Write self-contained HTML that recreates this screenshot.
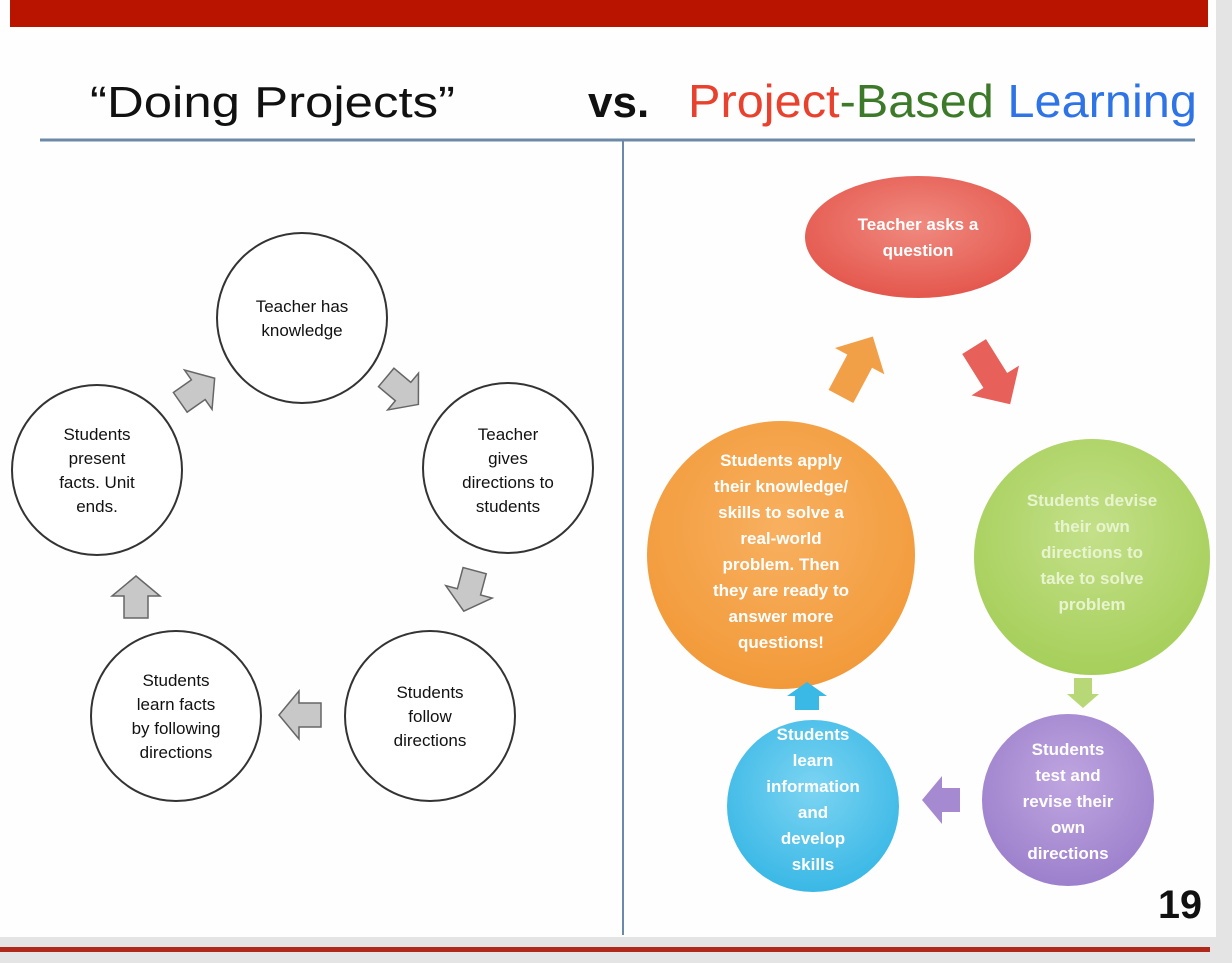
<!DOCTYPE html>
<html><head><meta charset="utf-8"><style>
html,body{margin:0;padding:0;background:#e4e4e4;}
svg{display:block;}
text{font-family:"Liberation Sans",sans-serif;}
</style></head><body>
<svg width="1232" height="963" viewBox="0 0 1232 963" xmlns="http://www.w3.org/2000/svg">
<defs>
<radialGradient id="gr" cx="50%" cy="40%" r="60%"><stop offset="0" stop-color="#f08a80"/><stop offset="1" stop-color="#e4574d"/></radialGradient>
<radialGradient id="go" cx="50%" cy="40%" r="60%"><stop offset="0" stop-color="#f8b060"/><stop offset="1" stop-color="#f29a3a"/></radialGradient>
<radialGradient id="gg" cx="50%" cy="40%" r="60%"><stop offset="0" stop-color="#c4e08a"/><stop offset="1" stop-color="#a6cf5a"/></radialGradient>
<radialGradient id="gp" cx="50%" cy="40%" r="60%"><stop offset="0" stop-color="#bfa6e0"/><stop offset="1" stop-color="#9d80cc"/></radialGradient>
<radialGradient id="gb" cx="50%" cy="40%" r="60%"><stop offset="0" stop-color="#7cd4f2"/><stop offset="1" stop-color="#3ab8e6"/></radialGradient>
<g id="arr"><polygon points="-18,-12 4,-12 4,-24 24,0 4,24 4,12 -18,12" fill="#c8c8c8" stroke="#666" stroke-width="1.5"/></g>
</defs>
<rect x="0" y="0" width="1216" height="937" fill="#fefefe"/>
<rect x="10" y="0" width="1198" height="27" fill="#b91400"/>
<rect x="0" y="947" width="1210" height="5" fill="#b0281a"/>
<text x="90" y="117" font-size="44" fill="#111" textLength="365" lengthAdjust="spacingAndGlyphs">“Doing Projects”</text>
<text x="588" y="117" font-size="44" font-weight="bold" fill="#111">vs.</text>
<text x="688" y="117" font-size="46" textLength="509" lengthAdjust="spacingAndGlyphs"><tspan fill="#e8422e">Project</tspan><tspan fill="#3c7a2a">-Based </tspan><tspan fill="#2f74e6">Learning</tspan></text>
<line x1="40" y1="140" x2="1195" y2="140" stroke="#6b8aa8" stroke-width="3"/>
<line x1="623" y1="141" x2="623" y2="935" stroke="#6b8aa8" stroke-width="2"/>

<g stroke="#333" stroke-width="2" fill="#fff">
<circle cx="302" cy="318" r="85"/>
<circle cx="508" cy="468" r="85"/>
<circle cx="430" cy="716" r="85"/>
<circle cx="176" cy="716" r="85"/>
<circle cx="97" cy="470" r="85"/>
</g>
<use href="#arr" transform="translate(400,389) rotate(40)"/>
<use href="#arr" transform="translate(470,588) rotate(105)"/>
<use href="#arr" transform="translate(303,715) rotate(180)"/>
<use href="#arr" transform="translate(136,600) rotate(-90)"/>
<use href="#arr" transform="translate(195,392) rotate(-35)"/>
<g font-size="17" fill="#111" text-anchor="middle">
<text x="302" y="312">Teacher has</text><text x="302" y="336">knowledge</text>
<text x="508" y="440">Teacher</text><text x="508" y="464">gives</text><text x="508" y="488">directions to</text><text x="508" y="512">students</text>
<text x="430" y="698">Students</text><text x="430" y="722">follow</text><text x="430" y="746">directions</text>
<text x="176" y="686">Students</text><text x="176" y="710">learn facts</text><text x="176" y="734">by following</text><text x="176" y="758">directions</text>
<text x="97" y="440">Students</text><text x="97" y="464">present</text><text x="97" y="488">facts. Unit</text><text x="97" y="512">ends.</text>
</g>

<ellipse cx="918" cy="237" rx="113" ry="61" fill="url(#gr)"/>
<circle cx="781" cy="555" r="134" fill="url(#go)"/>
<circle cx="1092" cy="557" r="118" fill="url(#gg)"/>
<circle cx="1068" cy="800" r="86" fill="url(#gp)"/>
<circle cx="813" cy="806" r="86" fill="url(#gb)"/>
<polygon points="-30,-14 10,-14 10,-28 38,0 10,28 10,14 -30,14" fill="#e8605a" transform="translate(990,372) rotate(58)"/>
<polygon points="-30,-14 10,-14 10,-28 38,0 10,28 10,14 -30,14" fill="#f2a048" transform="translate(855,370) rotate(-62)"/>
<polygon points="-12,-9 4,-9 4,-16 18,0 4,16 4,9 -12,9" fill="#b8d878" transform="translate(1083,690) rotate(90)"/>
<polygon points="-14,-12 4,-12 4,-24 24,0 4,24 4,12 -14,12" fill="#a58ad2" transform="translate(946,800) rotate(180)"/>
<polygon points="-10,-12 4,-12 4,-20 18,0 4,20 4,12 -10,12" fill="#3ab8e6" transform="translate(807,700) rotate(-90)"/>
<g font-size="17" font-weight="bold" fill="#fff" text-anchor="middle">
<text x="918" y="230">Teacher  asks a</text><text x="918" y="256">question</text>
<text x="781" y="466">Students apply</text><text x="781" y="492">their knowledge/</text><text x="781" y="518">skills to solve a</text><text x="781" y="544">real-world</text><text x="781" y="570">problem. Then</text><text x="781" y="596">they are ready to</text><text x="781" y="622">answer more</text><text x="781" y="648">questions!</text>
<text x="1092" y="506" fill="#e8f4d0">Students devise</text><text x="1092" y="532" fill="#e8f4d0">their own</text><text x="1092" y="558" fill="#e8f4d0">directions to</text><text x="1092" y="584" fill="#e8f4d0">take to solve</text><text x="1092" y="610" fill="#e8f4d0">problem</text>
<text x="1068" y="755">Students</text><text x="1068" y="781">test and</text><text x="1068" y="807">revise their</text><text x="1068" y="833">own</text><text x="1068" y="859">directions</text>
<text x="813" y="740">Students</text><text x="813" y="766">learn</text><text x="813" y="792">information</text><text x="813" y="818">and</text><text x="813" y="844">develop</text><text x="813" y="870">skills</text>
</g>
<text x="1202" y="918" font-size="40" font-weight="bold" fill="#111" text-anchor="end" textLength="44" lengthAdjust="spacingAndGlyphs">19</text>
</svg>
</body></html>
